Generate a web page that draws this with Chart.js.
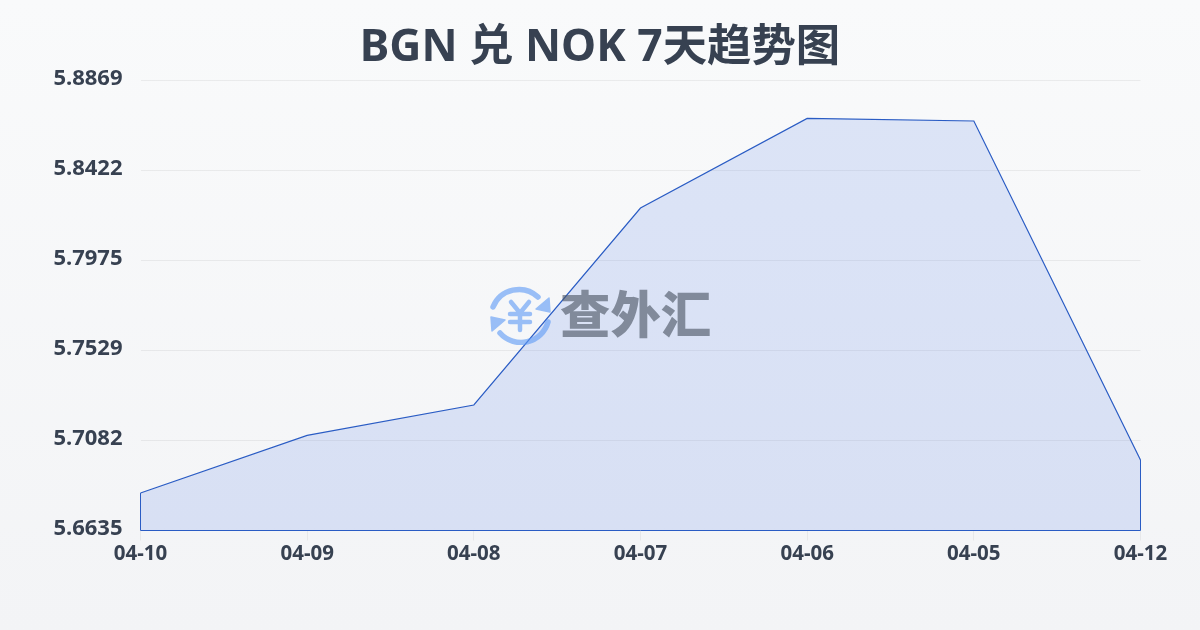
<!DOCTYPE html>
<html><head><meta charset="utf-8">
<script src="https://cdn.jsdelivr.net/npm/chart.js@4/dist/chart.umd.min.js"></script>
<style>
html,body{margin:0;padding:0;width:1200px;height:630px;overflow:hidden}
body{background:linear-gradient(180deg,#f9fafb 0%,#f3f4f6 100%);position:relative;font-family:"Noto Sans","Noto Sans CJK SC",sans-serif}
#c{position:absolute;left:0;top:0}
#t{position:absolute;left:0;right:0;top:14px;text-align:center;font-size:44.4px;line-height:60px;font-weight:700;color:#374151;margin:0}
#wm{position:absolute;left:489px;top:285px;width:225px;height:60px;opacity:.62}
#wm span{position:absolute;left:71px;top:-9px;font-family:"Noto Sans CJK SC",sans-serif;font-size:50.4px;line-height:72px;font-weight:900;color:#4b5563;letter-spacing:0;white-space:nowrap}
</style></head><body>
<canvas id="c" width="1200" height="630"></canvas>
<h1 id="t">BGN 兑 NOK 7天趋势图</h1>
<div id="wm">
<svg width="62" height="60" viewBox="0 0 62 60" style="position:absolute;left:0;top:0">
<g fill="none" stroke="#5f9bf5" stroke-linecap="round">
<path d="M4 22A28 28 0 0 1 49 12" stroke-width="5.5"/>
<path d="M59 37A28 28 0 0 1 11 48" stroke-width="5.5"/>
<path d="M22 17L31 28L40 17M21 29H41M21 37H41M31 28V45" stroke-width="4.5"/>
</g>
<path d="M60 13L61 27L47 24Z" fill="#5f9bf5" stroke="#5f9bf5" stroke-width="1.5" stroke-linejoin="round"/>
<path d="M2 32L3 46L16 35Z" fill="#5f9bf5" stroke="#5f9bf5" stroke-width="1.5" stroke-linejoin="round"/>
</svg>
<span>查外汇</span>
</div>
<script>
const categories=["04-10","04-09","04-08","04-07","04-06","04-05","04-12"];
const rates=[5.6821,5.7107,5.7258,5.8236,5.8681,5.8668,5.6985];
const yTicks=[5.6635,5.7082,5.7529,5.7975,5.8422,5.8869];
const lineColor="#2a5cc4";
const closePath={id:"closePath",afterDatasetsDraw(ch){
 const {ctx,scales:{x,y}}=ch;
 const base=y.getPixelForValue(yTicks[0]);
 const x0=x.getPixelForValue(0),x1=x.getPixelForValue(categories.length-1);
 ctx.save();ctx.strokeStyle=lineColor;ctx.lineWidth=1;ctx.beginPath();
 ctx.moveTo(x0,y.getPixelForValue(rates[0]));ctx.lineTo(x0,base);ctx.lineTo(x1,base);ctx.lineTo(x1,y.getPixelForValue(rates[rates.length-1]));
 ctx.stroke();ctx.restore();
}};
new Chart(document.getElementById("c"),{type:"line",
 data:{labels:categories,datasets:[{data:rates,borderColor:lineColor,borderWidth:1.2,backgroundColor:"rgba(59,110,225,0.15)",fill:"start",pointRadius:0,tension:0}]},
 plugins:[closePath],
 options:{responsive:false,animation:false,
  layout:{padding:{top:80.5,right:59.5,bottom:39.5,left:0}},
  plugins:{legend:{display:false},tooltip:{enabled:false},title:{display:false}},
  scales:{
   x:{offset:false,grid:{color:"rgba(0,0,0,0.05)",drawOnChartArea:false,tickLength:10},border:{display:false},
      afterFit(a){a.height=60;},
      ticks:{color:"#374151",font:{size:20.5,weight:"700",family:'"Noto Sans","Noto Sans CJK SC",sans-serif'},maxRotation:0,padding:1,autoSkip:false}},
   y:{min:yTicks[0],max:yTicks[5],
      afterBuildTicks(a){a.ticks=yTicks.map(v=>({value:v}));},
      afterFit(a){a.width=140.5;},
      grid:{color:"rgba(0,0,0,0.06)",drawTicks:false},border:{display:false},
      ticks:{color:"#374151",padding:18,labelOffset:-1.5,font:{size:22,weight:"700",family:'"Noto Sans","Noto Sans CJK SC",sans-serif'},callback:v=>Number(v).toFixed(4)}}
  }}});
</script>
</body></html>
